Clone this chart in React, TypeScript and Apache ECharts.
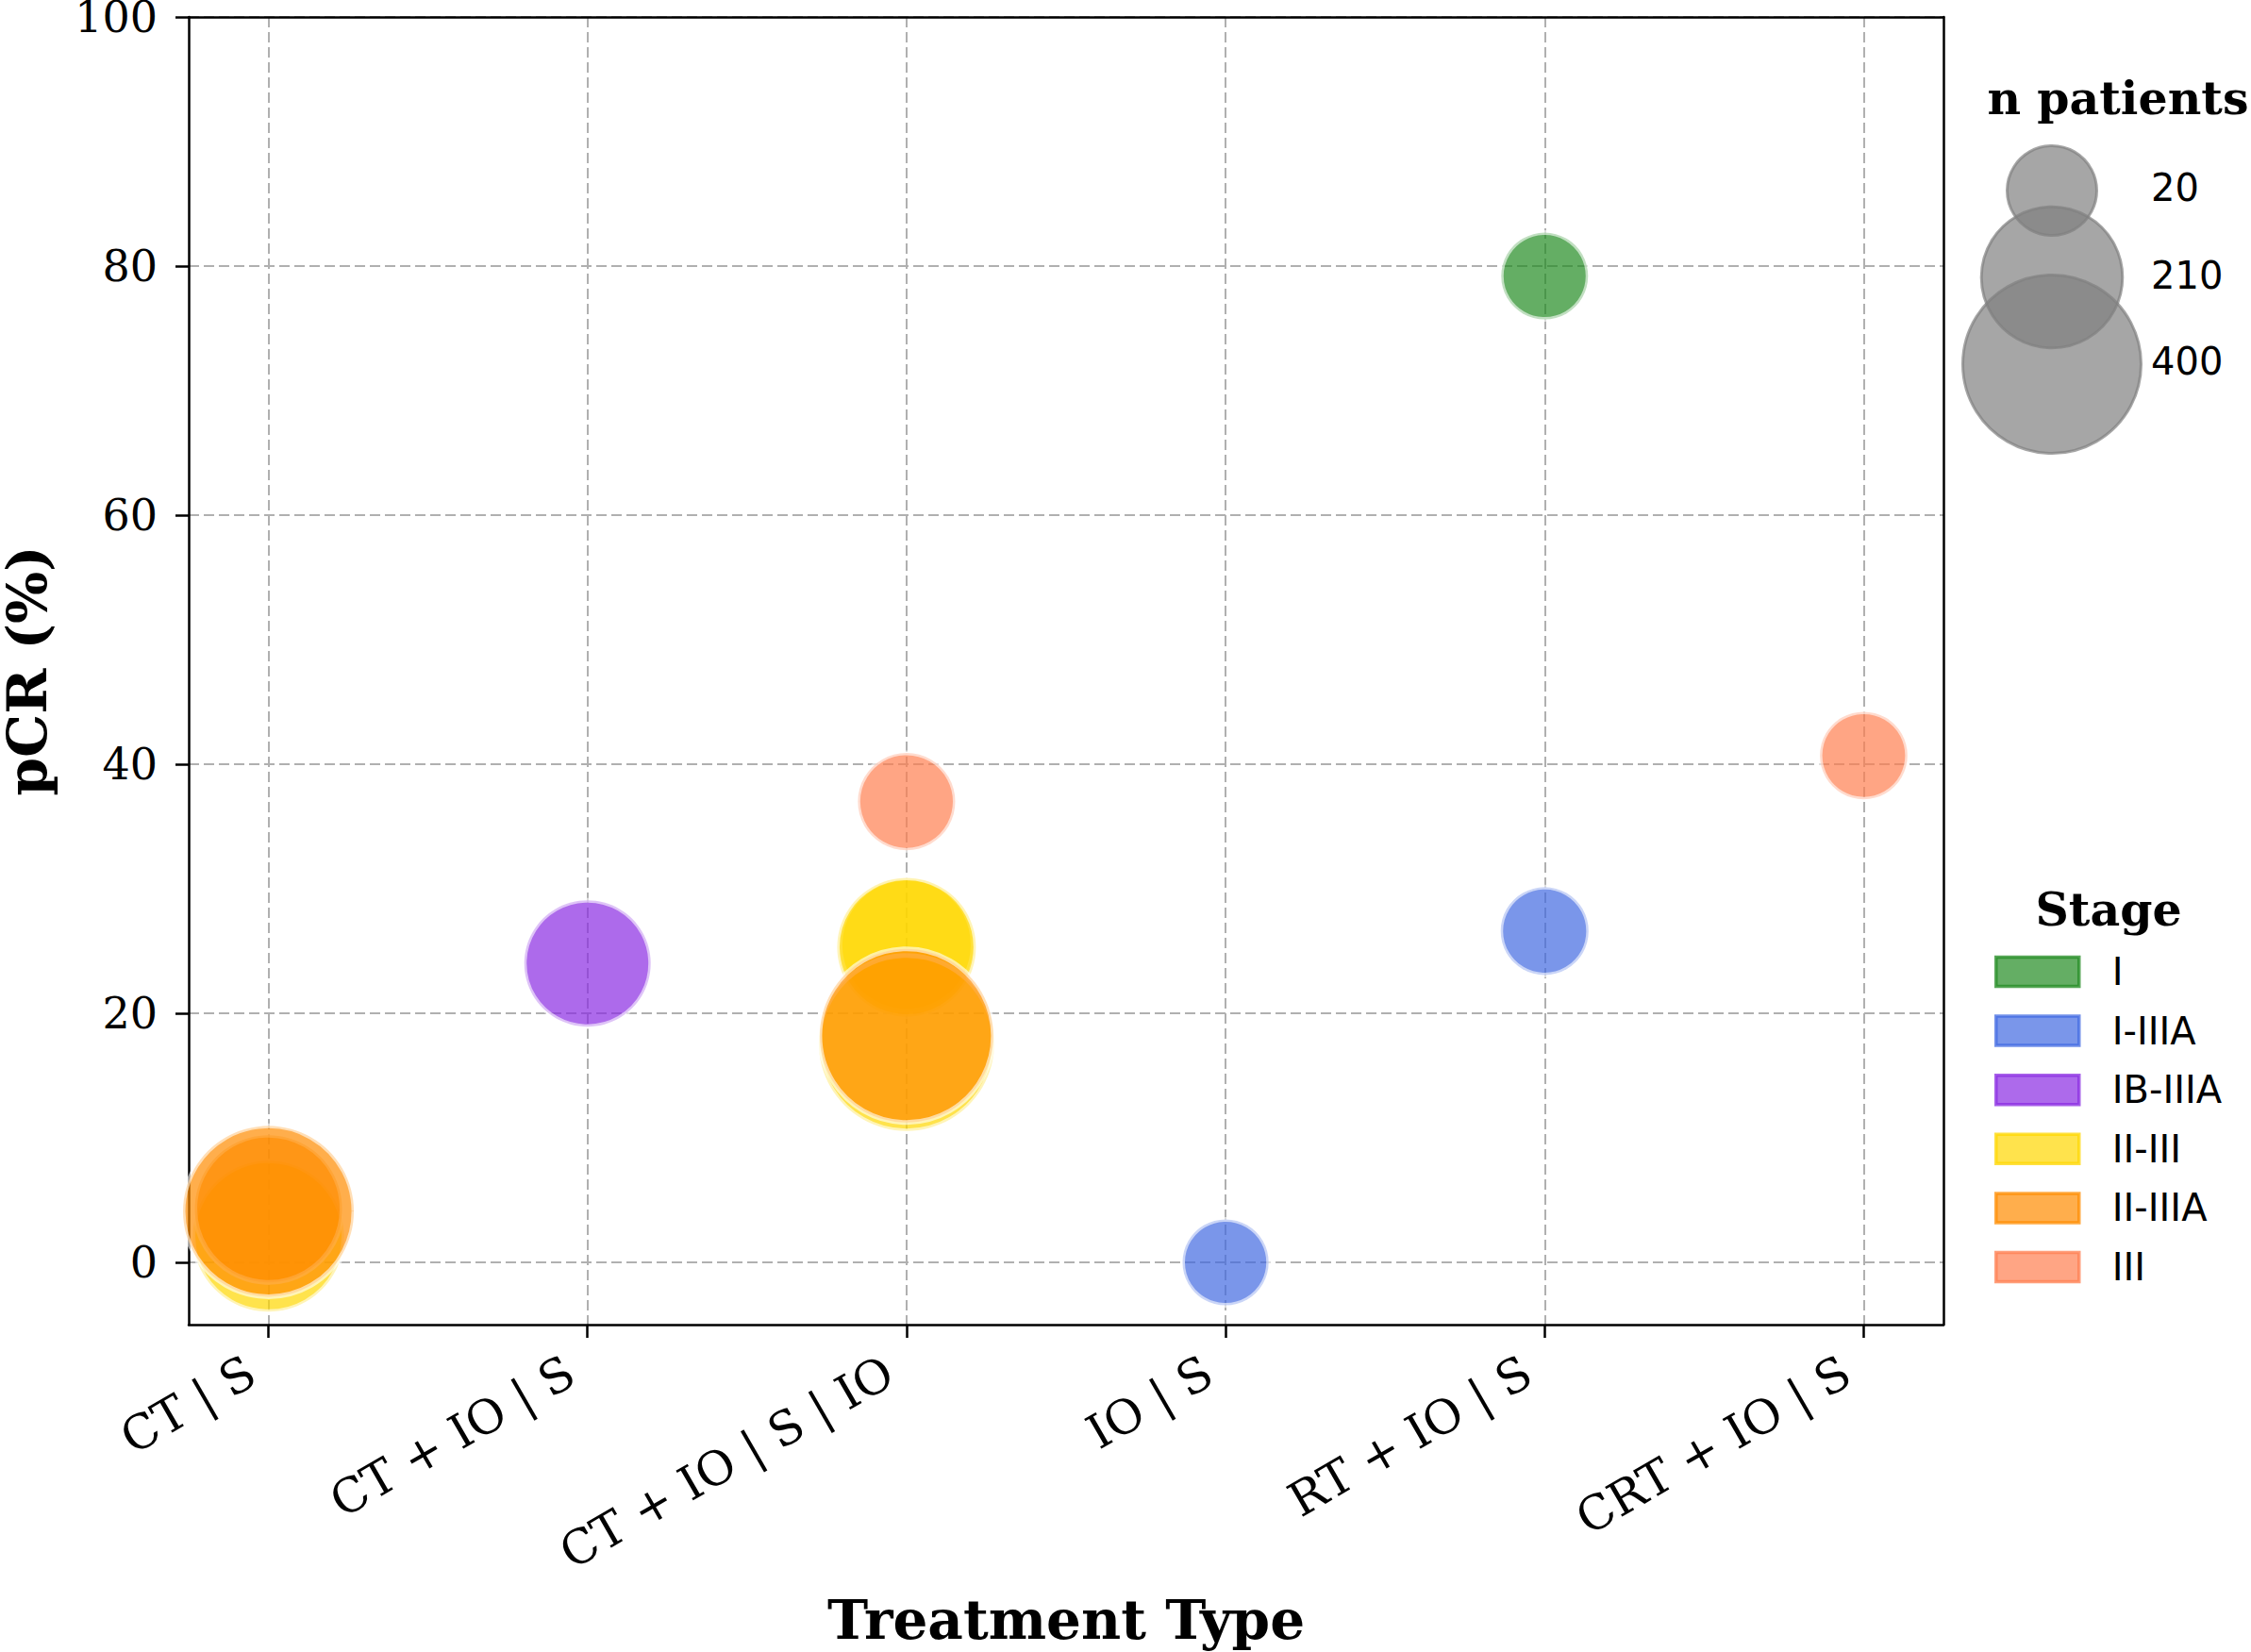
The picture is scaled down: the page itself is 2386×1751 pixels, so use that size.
import React, { useEffect, useRef } from 'react';
import * as echarts from 'echarts';

const categories = ['CT | S', 'CT + IO | S', 'CT + IO | S | IO', 'IO | S', 'RT + IO | S', 'CRT + IO | S'];
const stages = ['I', 'I-IIIA', 'IB-IIIA', 'II-III', 'II-IIIA', 'III'];
const stageColors = ['#228B22', '#4169E1', '#8A2BE2', '#FFD700', '#FF8C00', '#FF7F50'];

// [treatment index, pCR (%), n patients]
const stageI = [[4, 79.2, 12]];
const stageI_IIIA = [[3, 0, 10], [4, 26.6, 15]];
const stageIB_IIIA = [[1, 24.0, 147]];
const stageII_III = [[0, 2.1, 256], [2, 25.5, 175], [2, 25.3, 199], [2, 17.6, 384]];
const stageII_IIIA = [[0, 4.3, 238], [0, 4.1, 358], [2, 18.2, 373]];
const stageIII = [[2, 37.0, 43], [5, 40.7, 14]];
const stageData = [stageI, stageI_IIIA, stageIB_IIIA, stageII_III, stageII_IIIA, stageIII];

const xTicks = [0, 1, 2, 3, 4, 5];
const yTicks = [0, 20, 40, 60, 80, 100];
const sizeLegendValues = [20, 210, 400];

const sizeOf = (n: number) => Math.sqrt(7620 + 70.25 * n);

function rgba(hex: string, a: number) {
  const r = parseInt(hex.slice(1, 3), 16);
  const g = parseInt(hex.slice(3, 5), 16);
  const b = parseInt(hex.slice(5, 7), 16);
  return `rgba(${r},${g},${b},${a})`;
}

const SERIF = 'DejaVu Serif';
const SANS = 'DejaVu Sans';

export default function App() {
  const ref = useRef<HTMLDivElement>(null);
  useEffect(() => {
    document.body.style.margin = '0';
    if (!ref.current) return;
    const chart = echarts.init(ref.current, null, { renderer: 'svg' });
    const sizeCenterX = 2175;
    const sizeCentersY = [202, 294, 386];
    const sizeLabelY = [199, 292, 383];
    const graphic: any[] = [
      {
        type: 'text', x: 2245, y: 104,
        style: { text: 'n patients', fontFamily: SERIF, fontWeight: 'bold', fontSize: 49, fill: '#000', align: 'center', verticalAlign: 'middle' },
      },
      {
        type: 'text', x: 2235, y: 964,
        style: { text: 'Stage', fontFamily: SERIF, fontWeight: 'bold', fontSize: 49, fill: '#000', align: 'center', verticalAlign: 'middle' },
      },
    ];
    sizeLegendValues.forEach((v, i) => {
      graphic.push({
        type: 'circle',
        shape: { cx: sizeCenterX, cy: sizeCentersY[i], r: sizeOf(v) / 2 },
        style: { fill: 'rgba(128,128,128,0.7)', stroke: 'rgba(128,128,128,0.7)', lineWidth: 3 },
      });
    });
    sizeLegendValues.forEach((v, i) => {
      graphic.push({
        type: 'text', x: 2280, y: sizeLabelY[i],
        style: { text: String(v), fontFamily: SANS, fontSize: 40, fill: '#000', align: 'left', verticalAlign: 'middle' },
      });
    });

    const blackLine = { show: true, onZero: false, lineStyle: { color: '#000', width: 2.5 } };
    const gridLine = { show: true, lineStyle: { color: '#b0b0b0', width: 2, type: [11, 5] } };
    const frameAxis = {
      type: 'value', axisLine: blackLine, axisTick: { show: false }, axisLabel: { show: false },
      splitLine: { show: false }, z: 10,
    };

    chart.setOption({
      animation: false,
      backgroundColor: '#fff',
      textStyle: { fontFamily: SERIF },
      grid: { left: 200, top: 18, right: 326, bottom: 347, show: false, containLabel: false, outerBoundsMode: 'none' },
      xAxis: [
        {
          type: 'value', min: -0.25, max: 5.25,
          name: 'Treatment Type', nameLocation: 'middle', nameGap: 284,
          nameTextStyle: { fontFamily: SERIF, fontWeight: 'bold', fontSize: 58, color: '#000' },
          axisLine: blackLine,
          splitLine: gridLine,
          axisTick: { show: true, length: 14, lineStyle: { color: '#000', width: 2.5 }, customValues: xTicks },
          axisLabel: {
            customValues: xTicks, rotate: 30, margin: 36, fontFamily: SERIF, fontSize: 50, color: '#000',
            padding: [0, 21, 0, 0],
            formatter: (v: number) => categories[Math.round(v)] ?? '',
          },
        },
        { ...frameAxis, position: 'top', min: -0.25, max: 5.25 },
      ],
      yAxis: [
        {
          type: 'value', min: -5, max: 100,
          name: 'pCR (%)', nameLocation: 'middle', nameGap: 149,
          nameTextStyle: { fontFamily: SERIF, fontWeight: 'bold', fontSize: 58, lineHeight: 44, color: '#000' },
          axisLine: blackLine,
          splitLine: gridLine,
          axisTick: { show: true, length: 14, lineStyle: { color: '#000', width: 2.5 }, customValues: yTicks },
          axisLabel: { customValues: yTicks, margin: 33, fontFamily: SERIF, fontSize: 46, lineHeight: 36, color: '#000' },
        },
        { ...frameAxis, position: 'right', min: -5, max: 100 },
      ],
      legend: {
        orient: 'vertical', left: 2114, top: 1010, itemWidth: 88, itemHeight: 31, itemGap: 22.6,
        icon: 'rect', selectedMode: false, padding: 0,
        textStyle: { fontFamily: SANS, fontSize: 40, color: '#000', padding: [0, 0, 0, 30] },
        data: stages.map((s, i) => ({
          name: s,
          itemStyle: { color: rgba(stageColors[i], 0.7), borderColor: rgba(stageColors[i], 0.75), borderWidth: 3.5 },
        })),
      },
      series: stages.map((s, i) => ({
        type: 'scatter', name: s, data: stageData[i], symbol: 'circle',
        xAxisIndex: 0, yAxisIndex: 0,
        symbolSize: (v: number[]) => sizeOf(v[2]),
        clip: true,
        itemStyle: { color: rgba(stageColors[i], 0.7), borderColor: 'rgba(255,255,255,0.6)', borderWidth: 5, opacity: 1 },
        emphasis: { disabled: true },
      })),
      graphic,
    });
    return () => chart.dispose();
  }, []);
  return <div ref={ref} style={{ position: 'absolute', left: 0, top: 0, width: 2386, height: 1751 }} />;
}
